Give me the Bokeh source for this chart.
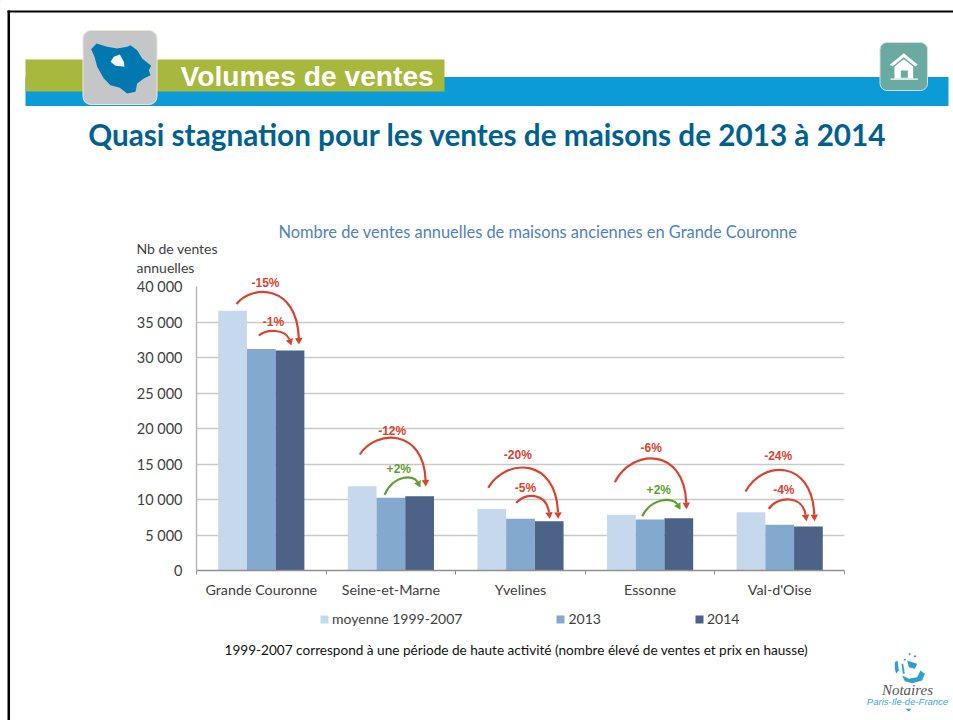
from bokeh.plotting import figure
from bokeh.embed import file_html
from bokeh.resources import INLINE
from bokeh.core.properties import value
from bokeh.models import (Range1d, FixedTicker, BoxAnnotation, Legend, LegendItem)

# ---- data ----
categories = ["Grande Couronne", "Seine-et-Marne", "Yvelines", "Essonne", "Val-d'Oise"]
moyenne = [36600, 11850, 8650, 7850, 8200]
v2013 = [31200, 10250, 7300, 7200, 6450]
v2014 = [31000, 10450, 6950, 7350, 6200]
series_names = ["moyenne 1999-2007", "2013", "2014"]
y_ticks = [0, 5000, 10000, 15000, 20000, 25000, 30000, 35000, 40000]
y_tick_labels = ["0", "5 000", "10 000", "15 000", "20 000", "25 000", "30 000", "35 000", "40 000"]
big_labels = ["-15%", "-12%", "-20%", "-6%", "-24%"]
small_labels = ["-1%", "+2%", "-5%", "+2%", "-4%"]

# ---- page geometry (reference pixels) ----
W, H = 953, 720
FL, FR, FT, FB = 196, 844, 286, 570
def X(px): return (px - FL) / (FR - FL) * 5
def Y(py): return (FB - py) / (FB - FT) * 40000

FONT = "Lato"
GREY = "#404040"
RED = "#d8432f"
GREEN = "#5f9e2f"
LAYER = {"position": "absolute", "left": "0px", "top": "0px"}

p = figure(width=W, height=H, output_backend="svg", toolbar_location=None,
           x_range=Range1d(0, 5), y_range=Range1d(0, 40000),
           min_border_left=FL, min_border_right=W - FR, min_border_top=FT, min_border_bottom=H - FB,
           outline_line_color=None, background_fill_color="white", border_fill_color="white", styles=LAYER)

p.xgrid.visible = False
p.ygrid.grid_line_color = "#c9c9c9"
p.ygrid.grid_line_width = 1.4
p.ygrid.ticker = FixedTicker(ticks=y_ticks)

ya = p.yaxis[0]
ya.ticker = FixedTicker(ticks=y_ticks)
ya.major_label_overrides = {t: l for t, l in zip(y_ticks, y_tick_labels)}
ya.major_label_text_font = FONT
ya.major_label_text_font_size = "14.5px"
ya.major_label_text_color = GREY
ya.axis_line_color = "#b5b5b5"
ya.axis_line_width = 1.4
ya.major_tick_out = 0
ya.major_tick_in = 0
ya.minor_tick_out = 0
ya.minor_tick_in = 0
ya.major_label_standoff = 14

xa = p.xaxis[0]
centers = [i + 0.5 for i in range(len(categories))]
xa.ticker = FixedTicker(ticks=centers, minor_ticks=list(range(len(categories) + 1)))
xa.major_label_overrides = {c: l for c, l in zip(centers, categories)}
xa.major_label_text_font = FONT
xa.major_label_text_font_size = "14.3px"
xa.major_label_text_color = GREY
xa.axis_line_color = "#8f8f8f"
xa.axis_line_width = 1.4
xa.major_tick_out = 0
xa.major_tick_in = 0
xa.minor_tick_out = 4
xa.minor_tick_in = 0
xa.minor_tick_line_color = "#8f8f8f"
xa.major_label_standoff = 6

BW = 0.2216
colors = ["#c6d9ec", "#84a9cf", "#4d6287"]
for off, vals, col in zip((-BW, 0, BW), (moyenne, v2013, v2014), colors):
    p.vbar(x=[c + off for c in centers], top=vals, width=BW, bottom=0, fill_color=col, line_color=None)

# ---- overlay: page decoration, in page pixels ----
o = figure(width=W, height=H, output_backend="svg", toolbar_location=None,
           x_range=Range1d(0, W), y_range=Range1d(H, 0), x_axis_type=None, y_axis_type=None,
           min_border=0, outline_line_color=None, background_fill_alpha=0, border_fill_alpha=0, styles=LAYER)
o.grid.visible = False

# legend keys sit outside the visible range of the overlay
keys = [o.vbar(x=[-100], top=[-100], width=1, bottom=-101, fill_color=col, line_color=None) for col in colors]
legend = Legend(items=[LegendItem(label=n, renderers=[r]) for n, r in zip(series_names, keys)],
                orientation="horizontal", location=(319, H - 627), spacing=93,
                glyph_width=10, glyph_height=10, label_standoff=3, padding=0, margin=0,
                border_line_color=None, background_fill_alpha=0,
                label_text_font=FONT, label_text_font_size="14px", label_text_color=GREY,
                label_height=16)
o.add_layout(legend, "center")

def text(x, y, s, font=FONT, size="14px", style="normal", color=GREY, align="left"):
    o.text(x=[x], y=[y], text=[s], text_font=value(font), text_font_size=value(size), text_font_style=style,
           text_color=color, text_align=align, text_baseline="middle")
def box(l, r, t, b, color, line=None, radius=0, lw=1):
    o.add_layout(BoxAnnotation(left=l, right=r, top=t, bottom=b, fill_color=color, fill_alpha=1,
                               line_color=line, line_width=lw, line_alpha=1 if line else 0,
                               border_radius=radius, level="underlay"))
def poly(pts, color):
    o.patch(x=[a for a, b in pts], y=[b for a, b in pts], fill_color=color, line_color=None)

# curved arrows: start, apex y, tip, colour, label, label centre
arcs = [
    (236, 303.5, 293, 298.5, 344, RED, 0.97, big_labels[0], 265, 282),
    (258.3, 335, 330.5, 291, 345, RED, 0.8, small_labels[0], 273, 321),
    (359.3, 454, 438, 425.3, 486, RED, 0.97, big_labels[1], 391.7, 430.5),
    (384, 494.3, 477.5, 420, 487, GREEN, 0.8, small_labels[1], 398.3, 468.3),
    (487.7, 487.3, 467.7, 557.7, 518.3, RED, 0.97, big_labels[2], 517.3, 454),
    (515.7, 502.3, 495.7, 549.3, 518.3, RED, 0.9, small_labels[2], 525, 487.3),
    (614.3, 481.7, 458.3, 686, 508.7, RED, 0.97, big_labels[3], 650.7, 447.7),
    (641.7, 515.7, 500, 680, 509.3, GREEN, 0.8, small_labels[3], 658.3, 489),
    (745, 491, 470, 814, 520.7, RED, 0.97, big_labels[4], 777.7, 455.7),
    (768.3, 508.3, 499, 806, 520.7, RED, 0.9, small_labels[4], 783.3, 489.3),
]
for x0, y0, ya_, x1, y1, col, k, txt, lx, ly in arcs:
    c2x = x0 + k * (x1 - x0)
    dx, dy = x1 - c2x, y1 - (ya_ - 4)
    n = (dx * dx + dy * dy) ** 0.5
    ux, uy = dx / n, dy / n
    ex = x1 - ux * 6.5
    ey = y1 - uy * 6.5
    cy = (8 * ya_ - y0 - ey) / 6
    c1x = x0 + 0.25 * (x1 - x0)
    p.bezier(x0=[X(x0)], y0=[Y(y0)], x1=[X(ex)], y1=[Y(ey)],
             cx0=[X(c1x)], cy0=[Y(cy)], cx1=[X(c2x)], cy1=[Y(cy)],
             line_color=col, line_width=2.2)
    hx = [x1, ex - uy * 3.8, ex + uy * 3.8]
    hy = [y1, ey + ux * 3.8, ey - ux * 3.8]
    p.patch(x=[X(v) for v in hx], y=[Y(v) for v in hy], fill_color=col, line_color=None)
    text(lx, ly, txt, "Liberation Sans", "12px", "bold", col, "center")

# page frame
box(7, 953, 10, 12, "#000000")
box(7, 9.5, 10, 720, "#000000")
# banner
box(25, 948, 76.5, 105.5, "#0b9bd7")
box(25, 444, 59, 91, "#a8b83c")
box(82.5, 156.5, 30, 104, "#c4c6c8", "#e9e9da", 8, 1)
poly([(80 + a / 3, 28 + b / 3) for a, b in [(32, 62), (48, 45), (80, 55), (110, 60), (140, 55), (150, 50), (170, 65),
      (185, 90), (212, 112), (205, 125), (210, 140), (190, 150), (170, 165), (165, 190), (140, 195), (118, 178),
      (90, 170), (70, 150), (50, 115), (42, 85)]], "#0079b0")
poly([(80 + a / 3, 28 + b / 3) for a, b in [(90, 100), (100, 85), (118, 78), (130, 100), (132, 115), (105, 112)]], "#f4f6f6")
text(180, 75.5, "Volumes de ventes", "Liberation Sans", "28.2px", "bold", "#ffffff")
# home button
box(879.5, 927, 42, 90, "#6baaa0", "#cfe0dc", 7, 1)
poly([(480 + a / 3, b / 3) for a, b in [(1270, 158), (1312, 193), (1304, 198), (1270, 170), (1236, 198), (1228, 193)]], "#ffffff")
poly([(480 + a / 3, b / 3) for a, b in [(1270, 176), (1298, 198), (1298, 234), (1242, 234), (1242, 198)]], "#ffffff")
poly([(480 + a / 3, b / 3) for a, b in [(1230, 234), (1312, 234), (1312, 238), (1230, 238)]], "#ffffff")
poly([(480 + a / 3, b / 3) for a, b in [(1261, 210), (1282, 210), (1282, 232), (1261, 232)]], "#6baaa0")

# page texts
text(487, 134, "Quasi stagnation pour les ventes de maisons de 2013 à 2014", FONT, "29.7px", "bold", "#00618f", "center")
text(278, 230.5, "Nombre de ventes annuelles de maisons anciennes en Grande Couronne", FONT, "16.4px", "normal", "#4f81bd")
text(136, 247.5, "Nb de ventes", FONT, "14px")
text(136, 266.5, "annuelles", FONT, "14px")
text(224, 649.5, "1999-2007 correspond à une période de haute activité (nombre élevé de ventes et prix en hausse)",
     FONT, "13.6px", "normal", "#111111")

# Notaires logo
for pts in [[(88, 35), (96, 30), (100, 60), (92, 70), (88, 55)], [(108, 40), (113, 40), (118, 70), (112, 70)],
            [(110, 75), (130, 85), (155, 80), (165, 60), (178, 70), (170, 90), (140, 98), (118, 92)],
            [(130, 8), (136, 8), (134, 14), (130, 14)], [(145, 15), (152, 15), (152, 20), (145, 20)],
            [(115, 25), (121, 25), (121, 30), (115, 30)], [(125, 30), (140, 35), (155, 40), (148, 55), (130, 50)],
            [(120, 175), (138, 175), (130, 183)]]:
    poly([(865 + a / 3, 650 + b / 3) for a, b in pts], "#2f9fd0")
text(907, 689, "Notaires", "Liberation Serif", "15px", "italic", "#555555", "center")
text(907, 700.5, "Paris-Ile-de-France", "Liberation Sans", "9.5px", "italic", "#3aa9d8", "center")

open("out.html", "w").write(file_html((p, o), INLINE))
